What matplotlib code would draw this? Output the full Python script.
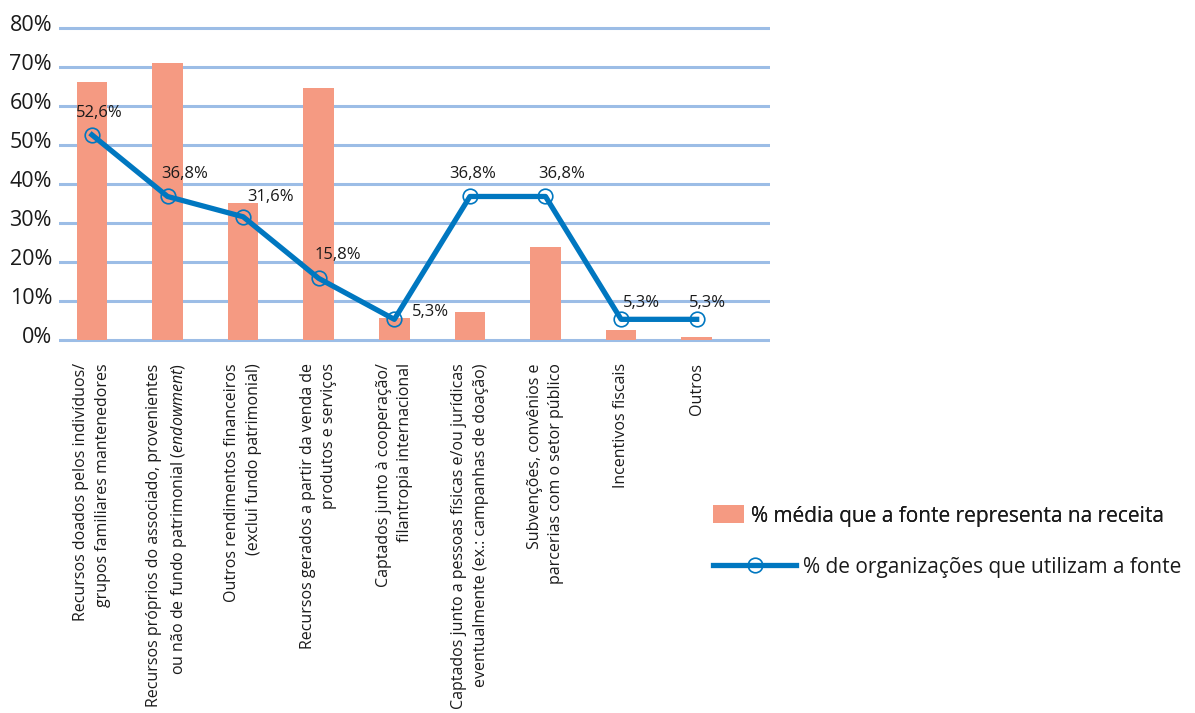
import matplotlib
matplotlib.use('Agg')
import numpy as np
from matplotlib import pyplot as plt
import matplotlib.transforms as mtransforms
from matplotlib.patches import Patch
from matplotlib.lines import Line2D

plt.rcParams['font.family'] = ['Open Sans', 'DejaVu Sans']
plt.rcParams['mathtext.fontset'] = 'custom'
plt.rcParams['mathtext.rm'] = 'Open Sans'
plt.rcParams['mathtext.it'] = 'Open Sans:italic'

# categories (fonte de recursos)
categories = [
    "Recursos doados pelos indivíduos/\ngrupos familiares mantenedores",
    "Recursos próprios do associado, provenientes\nou não de fundo patrimonial ($\\it{endowment}$)",
    "Outros rendimentos financeiros\n(exclui fundo patrimonial)",
    "Recursos gerados a partir da venda de\nprodutos e serviços",
    "Captados junto à cooperação/\nfilantropia internacional",
    "Captados junto a pessoas físicas e/ou jurídicas\neventualmente (ex.: campanhas de doação)",
    "Subvenções, convênios e\nparcerias com o setor público",
    "Incentivos fiscais",
    "Outros",
]
# % média que a fonte representa na receita
media_receita = [66.2, 71.0, 35.2, 64.6, 5.7, 7.2, 23.9, 2.6, 0.8]
# % de organizações que utilizam a fonte
pct_organizacoes = [52.6, 36.8, 31.6, 15.8, 5.3, 36.8, 36.8, 5.3, 5.3]
yticks = [0, 10, 20, 30, 40, 50, 60, 70, 80]

# label offsets (points) for the line values
label_offsets = [(5, 16), (12, 16), (20, 14), (14, 17), (26, 5), (2, 16), (12, 16), (15, 12), (8, 12)]

bar_color = '#F59A82'
line_color = '#0077C0'
grid_color = '#9CBDE6'
text_color = '#1a1a1a'

fig = plt.figure(figsize=(11.95, 7.13), dpi=100)
ax = fig.add_axes([59 / 1195, 1 - 343.9 / 713, (770 - 59) / 1195, (343.9 - 24.1) / 713])

x = np.arange(len(categories))
ax.bar(x, media_receita, width=0.405, color=bar_color, zorder=2)
ax.plot(x, pct_organizacoes, color=line_color, lw=3.8, zorder=3,
        marker='o', markersize=10.5, markerfacecolor='none',
        markeredgecolor=line_color, markeredgewidth=1.2)

for xi, v, off in zip(x, pct_organizacoes, label_offsets):
    ax.annotate(f"{v:.1f}%".replace('.', ','), (xi, v), xytext=off,
                textcoords='offset points', ha='center', va='center',
                fontsize=12, color=text_color, zorder=4)

ax.set_xlim(-0.436, 8.97)
ax.set_ylim(-1, 81)
ax.set_yticks(yticks)
ax.set_yticklabels([f"{t}%" for t in yticks], fontsize=15.5, color=text_color)
ax.tick_params(axis='y', length=0, pad=5)
shift = mtransforms.ScaledTranslation(0, 5 / 100, fig.dpi_scale_trans)
for lab in ax.get_yticklabels():
    lab.set_transform(lab.get_transform() + shift)
ax.set_xticks(x)
ax.set_xticklabels(categories, rotation=90, fontsize=11.5, color=text_color,
                   multialignment='right', linespacing=1.45)
ax.tick_params(axis='x', length=0, pad=14)
ax.yaxis.grid(True, color=grid_color, lw=2.2, zorder=1)
ax.set_axisbelow(True)
for s in ax.spines.values():
    s.set_visible(False)

h_bar = Patch(facecolor=bar_color, edgecolor='none')
h_line = Line2D([], [], color=line_color, lw=3.8, marker='o', markersize=10.5,
                markerfacecolor='none', markeredgecolor=line_color, markeredgewidth=1.2)
leg1 = fig.legend([h_bar], ["% média que a fonte representa na receita"],
                  loc='center left', bbox_to_anchor=(703 / 1195, 1 - 516 / 713),
                  frameon=False, fontsize=15, handlelength=1.45, handleheight=0.95,
                  handletextpad=0.35, borderpad=0, labelcolor=text_color)
leg2 = fig.legend([h_line], ["% de organizações que utilizam a fonte"],
                  loc='center left', bbox_to_anchor=(703 / 1195, 1 - 567 / 713),
                  frameon=False, fontsize=15, handlelength=3.95,
                  handletextpad=0.35, borderpad=0, labelcolor=text_color)
fig.add_artist(leg1)

fig.savefig('out.png', dpi=100)
plt.close(fig)
